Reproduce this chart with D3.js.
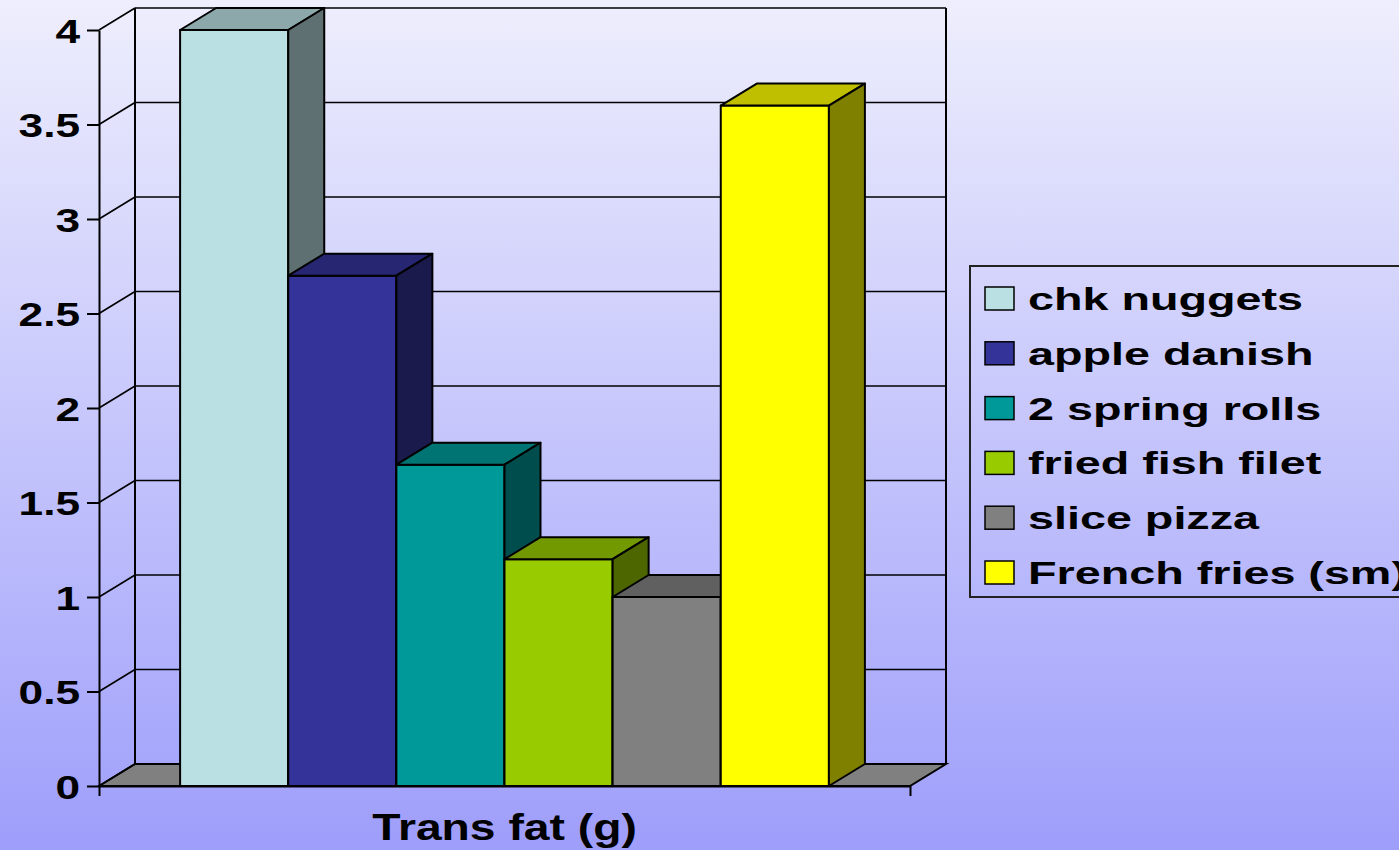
<!DOCTYPE html>
<html lang="en">
    <head>
        <meta charset="utf-8">
        <title>Trans fat</title>
        <script type="text/javascript" src="https://d3js.org/d3.v7.min.js"></script>
        <style>
            body { margin: 0; overflow: hidden; }
            text { font-family: "Liberation Sans", Arial, sans-serif; font-weight: bold; fill: #000; }
        </style>
    </head>
    <body>
        <script type="text/javascript">

            var w = 1399;
            var h = 850;

            // data
            var foods = ["chk nuggets", "apple danish", "2 spring rolls", "fried fish filet", "slice pizza", "French fries (sm)"];
            var transFat = [4, 2.7, 1.7, 1.2, 1.0, 3.6];
            var colors = ["#BBE0E3", "#333399", "#009999", "#99CC00", "#808080", "#FFFF00"];
            var yTicks = [0, 0.5, 1, 1.5, 2, 2.5, 3, 3.5, 4];
            var axisTitle = "Trans fat (g)";

            // plot frame (front plane) and 3d depth offset
            var plotLeft = 99, plotRight = 910, plotBottom = 786, plotTop = 30;
            var dx = 36, dy = -22;

            var svg = d3.select("body")
                        .append("svg")
                        .attr("width", w)
                        .attr("height", h);

            var grad = svg.append("defs").append("linearGradient")
                .attr("id", "bg")
                .attr("x1", 0).attr("y1", 0).attr("x2", 0).attr("y2", 1);
            grad.append("stop").attr("offset", "0%").attr("stop-color", "#EEEEFD");
            grad.append("stop").attr("offset", "100%").attr("stop-color", "#9E9EFB");

            svg.append("rect")
                .attr("width", w)
                .attr("height", h)
                .attr("fill", "url(#bg)");

            var yScale = d3.scaleLinear()
                .domain([0, 4])
                .range([plotBottom, plotTop]);

            var xScale = d3.scaleBand()
                .domain(foods)
                .range([plotLeft, plotRight])
                .paddingInner(0)
                .paddingOuter(0.75);

            function shade(c, k) {
                var r = d3.rgb(c);
                return d3.rgb(r.r * k, r.g * k, r.b * k).formatHex();
            }

            // floor
            svg.append("path")
                .attr("d", "M" + plotLeft + "," + plotBottom + "L" + (plotLeft + dx) + "," + (plotBottom + dy) +
                           "L" + (plotRight + dx) + "," + (plotBottom + dy) + "L" + plotRight + "," + plotBottom + "Z")
                .attr("fill", "#808080")
                .attr("stroke", "#000")
                .attr("stroke-width", 2);

            // walls and gridlines
            var grid = svg.append("g")
                .attr("stroke", "#000")
                .attr("stroke-width", 1.6)
                .attr("fill", "none");

            grid.selectAll(".back")
                .data(yTicks.filter(function(d) { return d > 0; }))
                .enter()
                .append("line")
                .attr("x1", plotLeft + dx)
                .attr("x2", plotRight + dx)
                .attr("y1", function(d) { return yScale(d) + dy; })
                .attr("y2", function(d) { return yScale(d) + dy; });

            grid.selectAll(".side")
                .data(yTicks)
                .enter()
                .append("line")
                .attr("x1", plotLeft)
                .attr("x2", plotLeft + dx)
                .attr("y1", function(d) { return yScale(d); })
                .attr("y2", function(d) { return yScale(d) + dy; });

            grid.append("line")
                .attr("x1", plotLeft + dx).attr("x2", plotLeft + dx)
                .attr("y1", yScale(4) + dy).attr("y2", yScale(0) + dy)
                .attr("stroke-width", 2);

            grid.append("line")
                .attr("x1", plotRight + dx).attr("x2", plotRight + dx)
                .attr("y1", yScale(4) + dy).attr("y2", yScale(0) + dy)
                .attr("stroke-width", 2);

            // bars
            var bars = svg.selectAll(".bar")
                .data(foods)
                .enter()
                .append("g")
                .attr("class", "bar")
                .attr("stroke", "#000")
                .attr("stroke-width", 2)
                .attr("stroke-linejoin", "round");

            bars.append("rect")
                .attr("x", function(d) { return xScale(d); })
                .attr("y", function(d, i) { return yScale(transFat[i]); })
                .attr("width", xScale.bandwidth())
                .attr("height", function(d, i) { return yScale(0) - yScale(transFat[i]); })
                .attr("fill", function(d, i) { return colors[i]; });

            bars.append("path")
                .attr("d", function(d, i) {
                    var x0 = xScale(d), x1 = x0 + xScale.bandwidth(), yv = yScale(transFat[i]);
                    return "M" + x0 + "," + yv + "L" + (x0 + dx) + "," + (yv + dy) +
                           "L" + (x1 + dx) + "," + (yv + dy) + "L" + x1 + "," + yv + "Z";
                })
                .attr("fill", function(d, i) { return shade(colors[i], 0.75); });

            bars.append("path")
                .attr("d", function(d, i) {
                    var x1 = xScale(d) + xScale.bandwidth(), yv = yScale(transFat[i]), y0 = yScale(0);
                    return "M" + x1 + "," + yv + "L" + (x1 + dx) + "," + (yv + dy) +
                           "L" + (x1 + dx) + "," + (y0 + dy) + "L" + x1 + "," + y0 + "Z";
                })
                .attr("fill", function(d, i) { return shade(colors[i], 0.5); });

            // axes
            var yAxis = d3.axisLeft()
                .scale(yScale)
                .tickValues(yTicks)
                .tickSize(12)
                .tickSizeOuter(0)
                .tickFormat(function(d) { return d; });

            var gy = svg.append("g")
                .attr("transform", "translate(" + plotLeft + ",0)")
                .call(yAxis);
            gy.select(".domain").attr("stroke", "#000").attr("stroke-width", 2);
            gy.selectAll(".tick line").attr("stroke", "#000").attr("stroke-width", 2);
            gy.selectAll(".tick text")
                .attr("x", -19 / 1.3)
                .attr("dy", "0.36em")
                .attr("transform", "scale(1.3,1)")
                .style("font-size", "34px")
                .style("font-family", "'Liberation Sans', Arial, sans-serif")
                .style("font-weight", "bold");

            var xEnds = d3.scaleLinear().domain([0, 1]).range([plotLeft, plotRight]);
            var xAxis = d3.axisBottom()
                .scale(xEnds)
                .tickValues([0, 1])
                .tickSize(10)
                .tickSizeOuter(0)
                .tickFormat("");

            var gx = svg.append("g")
                .attr("transform", "translate(0," + plotBottom + ")")
                .call(xAxis);
            gx.select(".domain").attr("stroke", "#000").attr("stroke-width", 2);
            gx.selectAll(".tick line").attr("stroke", "#000").attr("stroke-width", 2);

            svg.append("text")
                .attr("transform", "translate(" + ((plotLeft + plotRight) / 2) + ",840) scale(1.25,1)")
                .attr("text-anchor", "middle")
                .style("font-size", "37px")
                .text(axisTitle);

            // legend
            var legend = svg.append("g");
            legend.append("rect")
                .attr("x", 970)
                .attr("y", 266)
                .attr("width", 460)
                .attr("height", 331)
                .attr("fill", "none")
                .attr("stroke", "#222")
                .attr("stroke-width", 2);

            var rows = legend.selectAll(".row")
                .data(foods)
                .enter()
                .append("g")
                .attr("transform", function(d, i) { return "translate(985," + (287 + i * 54.8) + ")"; });

            rows.append("rect")
                .attr("width", 29)
                .attr("height", 23)
                .attr("fill", function(d, i) { return colors[i]; })
                .attr("stroke", "#000")
                .attr("stroke-width", 1.5);

            rows.append("text")
                .attr("transform", "translate(43,23) scale(1.46,1)")
                .style("font-size", "32px")
                .text(function(d) { return d; });

        </script>
    </body>
</html>
